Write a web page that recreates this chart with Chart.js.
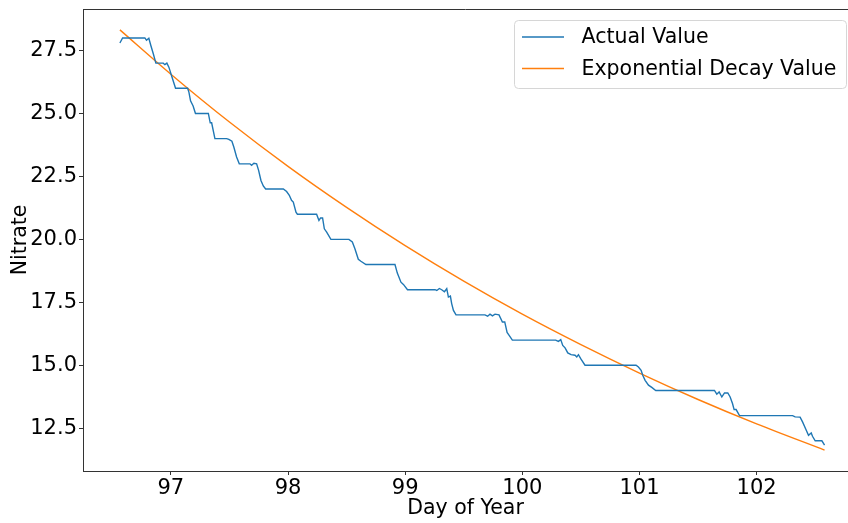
<!DOCTYPE html>
<html>
<head>
<meta charset="utf-8">
<script src="https://cdn.jsdelivr.net/npm/chart.js@4/dist/chart.umd.min.js"></script>
<style>
  html, body { margin: 0; padding: 0; background: #fff; }
</style>
</head>
<body>
<canvas id="chart" width="848" height="523"></canvas>
<script>
// values
const actualDay = [
  96.565, 96.588, 96.778, 96.792, 96.812, 96.829, 96.85, 96.872, 96.935, 96.949,
  96.966, 96.983, 97.006, 97.04, 97.143, 97.154, 97.168, 97.19, 97.21, 97.32,
  97.336, 97.348, 97.376, 97.476, 97.495, 97.521, 97.538, 97.561, 97.584, 97.675,
  97.689, 97.709, 97.732, 97.749, 97.769, 97.789, 97.809, 97.96, 97.988, 98.011,
  98.03, 98.045, 98.068, 98.08, 98.244, 98.264, 98.278, 98.295, 98.31, 98.33,
  98.366, 98.52, 98.549, 98.571, 98.6, 98.622, 98.665, 98.913, 98.933, 98.964,
  98.985, 99.02, 99.255, 99.27, 99.292, 99.312, 99.335, 99.355, 99.369, 99.386,
  99.397, 99.412, 99.434, 99.681, 99.704, 99.724, 99.745, 99.767, 99.801, 99.83,
  99.85, 99.87, 99.886, 99.915, 100.285, 100.308, 100.328, 100.345, 100.365, 100.388,
  100.416, 100.45, 100.465, 100.479, 100.501, 100.535, 100.971, 100.991, 101.014, 101.028,
  101.048, 101.077, 101.105, 101.139, 101.64, 101.66, 101.68, 101.703, 101.726, 101.754,
  101.774, 101.794, 101.808, 101.825, 101.854, 102.307, 102.329, 102.371, 102.392, 102.42,
  102.443, 102.466, 102.477, 102.5, 102.557, 102.58
];
const actualNitrate = [
  27.8, 28, 28, 27.91, 27.99, 27.7, 27.37, 27, 27, 26.94,
  27, 26.84, 26.5, 26, 26, 25.85, 25.5, 25.3, 25, 25,
  24.63, 24.63, 24, 24, 23.97, 23.9, 23.66, 23.27, 23, 23,
  22.94, 23.02, 23, 22.74, 22.34, 22.12, 22, 22, 21.9, 21.75,
  21.55, 21.48, 21.08, 21, 21, 20.75, 20.85, 20.85, 20.42, 20.29,
  20, 20, 19.9, 19.63, 19.21, 19.13, 19, 19, 18.66, 18.3,
  18.21, 18, 18, 17.97, 18.05, 18, 17.92, 18.04, 17.71, 17.75,
  17.45, 17.18, 17, 17, 16.95, 17.03, 16.96, 17.03, 17, 16.72,
  16.72, 16.3, 16.2, 16, 16, 15.95, 16.02, 15.79, 15.69, 15.49,
  15.42, 15.4, 15.33, 15.42, 15.24, 15, 15, 14.93, 14.8, 14.6,
  14.4, 14.21, 14.12, 14, 14, 13.85, 13.94, 13.74, 13.9, 13.9,
  13.74, 13.48, 13.24, 13.24, 13, 13, 12.95, 12.94, 12.75, 12.46,
  12.22, 12.31, 12.18, 12, 12, 11.83
];
const decayDay = [96.565, 97, 97.5, 98, 98.5, 99, 99.5, 100, 100.5, 101, 101.5, 102, 102.58];
const decayNitrate = [28.32, 26.56, 24.66, 22.9, 21.27, 19.75, 18.34, 17.03, 15.82, 14.69, 13.64, 12.67, 11.63];

const xTickValues = [97, 98, 99, 100, 101, 102];
const yTickValues = [12.5, 15, 17.5, 20, 22.5, 25, 27.5];
const seriesNames = ['Actual Value', 'Exponential Decay Value'];
const seriesColors = ['#1f77b4', '#ff7f0e'];

const FONT = 'DejaVu Sans';

function _points(xs, ys) {
  return xs.map((x, i) => ({x: x, y: ys[i]}));
}

// top spine, matplotlib style
const frameTop = {
  id: 'frameTop',
  afterDraw(chart) {
    const {ctx, chartArea} = chart;
    ctx.save();
    ctx.strokeStyle = '#333';
    ctx.lineWidth = 1;
    ctx.beginPath();
    ctx.moveTo(chartArea.left, chartArea.top + 0.5);
    ctx.lineTo(chartArea.right, chartArea.top + 0.5);
    ctx.stroke();
    ctx.restore();
  }
};

// legend box in the upper right corner
const legendBox = {
  id: 'legendBox',
  afterDraw(chart) {
    const ctx = chart.ctx;
    ctx.save();
    ctx.beginPath();
    ctx.roundRect(514.5, 20.5, 332, 68, 4);
    ctx.fillStyle = 'rgba(255,255,255,0.8)';
    ctx.fill();
    ctx.strokeStyle = '#d6d6d6';
    ctx.lineWidth = 1;
    ctx.stroke();
    ctx.font = '20.5px "' + FONT + '"';
    ctx.textBaseline = 'middle';
    ctx.fillStyle = '#000';
    seriesNames.forEach((name, i) => {
      const y = 37 + i * 31.5;
      ctx.strokeStyle = seriesColors[i];
      ctx.lineWidth = 1.4;
      ctx.beginPath();
      ctx.moveTo(522, y);
      ctx.lineTo(564, y);
      ctx.stroke();
      ctx.fillText(name, 581.5, y + 1);
    });
    ctx.restore();
  }
};

new Chart(document.getElementById('chart'), {
  type: 'line',
  data: {
    datasets: [{
      label: seriesNames[0],
      data: _points(actualDay, actualNitrate),
      borderColor: seriesColors[0],
      borderWidth: 1.4,
      pointRadius: 0,
      tension: 0
    }, {
      label: seriesNames[1],
      data: _points(decayDay, decayNitrate),
      borderColor: seriesColors[1],
      borderWidth: 1.4,
      pointRadius: 0,
      cubicInterpolationMode: 'monotone'
    }]
  },
  options: {
    responsive: false,
    animation: false,
    devicePixelRatio: 1,
    layout: { padding: { top: 9, right: 0, left: 0, bottom: 0 } },
    plugins: {
      legend: { display: false },
      tooltip: { enabled: false }
    },
    scales: {
      x: {
        type: 'linear',
        min: 96.25,
        max: 102.78,
        afterBuildTicks: s => { s.ticks = xTickValues.map(v => ({value: v})); },
        afterFit: s => { s.height = 52; s.paddingLeft = 0; s.paddingRight = 0; },
        grid: { drawOnChartArea: false, drawTicks: true, tickLength: 4, color: '#333' },
        border: { color: '#333', width: 1 },
        ticks: {
          color: '#000',
          font: { family: FONT, size: 21 },
          padding: 1,
          maxRotation: 0,
          callback: v => String(v)
        },
        title: {
          display: true,
          text: 'Day of Year',
          color: '#000',
          font: { family: FONT, size: 20.5, lineHeight: 1.2 },
          padding: { top: 0, bottom: 2 }
        }
      },
      y: {
        min: 10.8,
        max: 29.15,
        afterBuildTicks: s => { s.ticks = yTickValues.map(v => ({value: v})); },
        afterFit: s => { s.width = 83; s.paddingTop = 0; s.paddingBottom = 0; },
        grid: { drawOnChartArea: false, drawTicks: true, tickLength: 4, color: '#333' },
        border: { color: '#333', width: 1 },
        ticks: {
          color: '#000',
          font: { family: FONT, size: 21 },
          padding: 2,
          callback: v => v.toFixed(1)
        },
        title: {
          display: true,
          text: 'Nitrate',
          color: '#000',
          font: { family: FONT, size: 20.5, lineHeight: 1.2 },
          padding: { top: 8, bottom: 0 }
        }
      }
    }
  },
  plugins: [frameTop, legendBox]
});
</script>
</body>
</html>
